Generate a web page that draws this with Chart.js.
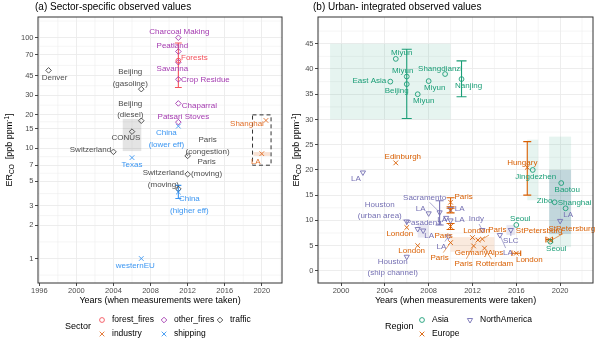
<!DOCTYPE html>
<html>
<head>
<meta charset="utf-8">
<script src="https://cdn.jsdelivr.net/npm/chart.js@4.4.1/dist/chart.umd.min.js"></script>
<style>
  html, body { margin:0; padding:0; background:#ffffff; }
  body { width:600px; height:343px; position:relative; overflow:hidden; }
  canvas { position:absolute; top:0; }
  #panelA { left:0; }
  #panelB { left:290px; }
</style>
</head>
<body>
<canvas id="panelA" width="290" height="343"></canvas>
<canvas id="panelB" width="310" height="343"></canvas>
<script>
// ================= Panel (a): sector-specific observed values (log scale) =================
const aYearTicks  = [1996, 2000, 2004, 2008, 2012, 2016, 2020];
const aValueTicks = [1, 2, 3, 5, 7, 10, 15, 20, 30, 45, 70, 100];

const fireYears  = [2011];
const fireValues = [62];
const fireLow    = [35.4];
const fireHigh   = [89.6];
const fireNames  = ['Forests'];

const industryYears  = [2020.45, 2020];
const industryValues = [17.8, 8.9];
const industryNames  = ['Shanghai', 'LA'];

const otherYears  = [2011, 2011, 2011, 2011, 2011, 2011];
const otherValues = [100, 75, 60, 42, 25.4, 17.2];
const otherNames  = ['Charcoal Making', 'Peatland', 'Savanna', 'Crop Residue', 'Chaparral', 'Patsari Stoves'];

const shipYears  = [2011, 2006, 2011, 2007];
const shipValues = [15.8, 8.2, 4.0, 1.0];
const shipLow    = [null, null, 3.5, null];
const shipHigh   = [null, null, 4.6, null];
const shipNames  = ['China\n(lower eff)', 'Texas', 'China\n(higher eff)', 'westernEU'];

const trafficYears  = [1997, 2007, 2007, 2006, 2004, 2012, 2012, 2011];
const trafficValues = [50.6, 34.2, 17.7, 14.1, 9.25, 8.5, 5.8, 4.27];
const trafficNames  = ['Denver', 'Beijing\n(gasoline)', 'Beijing\n(diesel)', 'CONUS', 'Switzerland',
                       'Paris\n(congestion)', 'Paris\n(moving)', 'Switzerland\n(moving)'];

const trafficBandYears  = [[2005, 2007]];
const trafficBandValues = [[9.4, 18.4]];
const industryBandYears  = [[2019.1, 2020.9]];
const industryBandValues = [[8.5, 9.2]];
const industryBoxYears  = [2019, 2021];
const industryBoxValues = [7, 20];

// ================= Panel (b): urban-integrated observed values (linear) =================
const bYearTicks  = [2000, 2004, 2008, 2012, 2016, 2020];
const bValueTicks = [0, 5, 10, 15, 20, 25, 30, 35, 40, 45];

const asiaYears  = [2005, 2006, 2006, 2004.5, 2007, 2008, 2009.5, 2011, 2016, 2017.5, 2020.1, 2019.5, 2020.5, 2019.1];
const asiaValues = [42, 38.5, 37, 37.5, 35, 37.6, 39, 38, 9.1, 20, 17.4, 13.6, 12.4, 5.8];
const asiaLow    = [null, null, 30.2, null, null, null, null, 34.5, null, null, null, null, null, null];
const asiaHigh   = [null, null, 43.9, null, null, null, null, 41.6, null, null, null, null, null, null];
const asiaNames  = ['Miyun', 'Miyun', 'Beijing', 'East Asia', 'Miyun', 'Miyun', 'Shangdianzi', 'Nanjing',
                    'Seoul', 'Jingdezhen', 'Baotou', 'Zibo', 'Shanghai', 'Seoul'];

const europeYears  = [2005, 2006, 2007, 2010, 2010, 2010, 2010, 2012, 2012.1, 2012.5, 2012.9, 2013.1, 2016, 2017, 2019, 2019.15];
const europeValues = [21.4, 8.6, 5.0, 13.6, 12.0, 8.8, 5.6, 6.6, 4.95, 6.1, 6.3, 4.5, 3.5, 20.5, 6.2, 6.0];
const europeLow    = [null, null, null, 12.7, 11.5, 8.2, null, null, null, null, null, null, null, 15.0, null, null];
const europeHigh   = [null, null, null, 14.5, 12.4, 9.4, null, null, null, null, null, null, null, 25.6, null, null];
const europeYearLow  = [null, null, null, null, null, null, null, null, null, null, null, null, 2015.6, null, 2018.7, null];
const europeYearHigh = [null, null, null, null, null, null, null, null, null, null, null, null, 2016.4, null, 2019.3, null];
const europeNames  = ['Edinburgh', 'London', 'London', 'Paris', '', 'Paris', 'Paris', 'London', 'Paris',
                      'GermanyAlps', 'Paris', 'Rotterdam', 'London', 'Hungary', 'StPetersburg', 'StPetersburg'];

const naYears  = [2002, 2006, 2007, 2007.5, 2008, 2009, 2009.6, 2010, 2010, 2009.8, 2006, 2012.9, 2015.5, 2014.5, 2020];
const naValues = [19.5, 9.8, 8.3, 8.0, 11.4, 11.6, 10.5, 12.3, 10.0, 6.8, 2.8, 8.1, 8.1, 7.1, 9.9];
const naLow    = [null, null, null, null, null, 9.1, null, null, null, null, null, null, null, null, null];
const naHigh   = [null, null, null, null, null, 13.9, null, null, null, null, null, null, null, null, null];
const naNames  = ['LA', 'Houston\n(urban area)', 'Pasadena', 'LA', 'LA', 'Sacramento', 'LA', 'LA', 'LA', 'LA',
                  'Houston\n(ship channel)', 'Indy', 'SLC', 'LA', 'LA'];

const asiaBandYears  = [[1999, 2010], [2017, 2018], [2019, 2021], [2019, 2021]];
const asiaBandValues = [[30, 45], [14, 26], [4.7, 26.6], [7.3, 20]];
const europeBandYears  = [[2010, 2014]];
const europeBandValues = [[3.8, 6.7]];
const naBandYears  = [[2007, 2008], [2015.1, 2015.9], [2019, 2021]];
const naBandValues = [[6.6, 9.3], [7.1, 9.1], [7.3, 20]];

// ================= Layout / style (not data) =================
const FONT = '"Liberation Sans", Arial, Helvetica, sans-serif';
const COL = { fire:'#F4525C', industry:'#E2702A', other:'#A43AB0', ship:'#3B96F2', traffic:'#4D4D4D',
              asia:'#1B9E77', europe:'#D95F02', na:'#7570B3' };
const RADIUS = { circle:2.4, crossRot:3.3, rectRot:2.8, triangle:3.0 };

const labelOffsets = {
  fire: [[16,-3]],
  industry: [[-19,3],[-6,8]],
  other: [[1,-6],[-6,-6],[-6,7],[27,0],[21,2],[5,-5]],
  ship: [[-12,7],[0,7],[11,7],[-6,7]],
  traffic: [[6,7],[-11,-17],[-11,-17],[-6,6],[-23,-2],[20,-16],[19,-12],[-15,-16]],
  asia: [[6,-6],[-4,-6],[-10,7],[-21,-1],[6,7],[6,7],[-5,-5],[7,7],[4,-6],[3,7],[6,7],[-10,-1],[9,-6],[6,7]],
  europe: [[7,-6],[-7,6],[-6,5],[13,-5],[0,0],[-7,9],[-11,15],[4,-7],[-10,18],[1,13],[15,-9],[10,16],[13,7],[-5,-5],[-10,-9],[21,-12]],
  na: [[-7,6],[-27,-17],[6,-6],[6,5],[-8,-5],[-15,-15],[-4,2],[9,0],[9,-1],[-7,10],[-14,5],[-6,-11],[0,11],[8,18],[8,-6]]
};
const leaders = { traffic:[5], europe:[6,8,10,11,15], na:[1,5,9,11,12,13] };

function minorLog(ticks) {
  const l = ticks.map(Math.log10), d = l[1] - l[0];
  const e = [l[0] - d, ...l, l[l.length - 1] + d], out = [];
  for (let i = 0; i < e.length - 1; i++) out.push(Math.pow(10, (e[i] + e[i + 1]) / 2));
  return out;
}
function minorLin(ticks) {
  const d = ticks[1] - ticks[0];
  const e = [ticks[0] - d, ...ticks, ticks[ticks.length - 1] + d], out = [];
  for (let i = 0; i < e.length - 1; i++) out.push((e[i] + e[i + 1]) / 2);
  return out;
}

function drawSymbol(ctx, style, x, y, color) {
  const r = RADIUS[style];
  ctx.save();
  ctx.strokeStyle = color; ctx.lineWidth = 0.9; ctx.beginPath();
  if (style === 'circle') ctx.arc(x, y, r, 0, Math.PI * 2);
  else if (style === 'crossRot') { const d = r * Math.SQRT1_2; ctx.moveTo(x-d,y-d); ctx.lineTo(x+d,y+d); ctx.moveTo(x+d,y-d); ctx.lineTo(x-d,y+d); }
  else if (style === 'rectRot') { ctx.moveTo(x-r,y); ctx.lineTo(x,y-r); ctx.lineTo(x+r,y); ctx.lineTo(x,y+r); ctx.closePath(); }
  else if (style === 'triangle') {
    const a = Math.PI;
    for (let k = 0; k < 3; k++) { const t = a + k * 2 * Math.PI / 3; const px = x + Math.sin(t) * r, py = y - Math.cos(t) * r; k ? ctx.lineTo(px, py) : ctx.moveTo(px, py); }
    ctx.closePath();
  }
  ctx.stroke(); ctx.restore();
}

function drawYTitle(ctx, cx, cy) {
  const parts = [['ER', 9, 0], ['CO', 6.5, 2.2], ['  [ppb ppm', 9, 0], ['-1', 6.5, -3.6], [']', 9, 0]];
  ctx.save();
  ctx.translate(cx, cy); ctx.rotate(-Math.PI / 2);
  ctx.fillStyle = '#000'; ctx.textBaseline = 'alphabetic'; ctx.textAlign = 'left';
  let total = 0;
  parts.forEach(p => { ctx.font = p[1] + 'px ' + FONT; total += ctx.measureText(p[0]).width; });
  let x = -total / 2;
  parts.forEach(p => { ctx.font = p[1] + 'px ' + FONT; ctx.fillText(p[0], x, 3.2 + p[2]); x += ctx.measureText(p[0]).width; });
  ctx.restore();
}

function makePlugin(spec) {
  return {
    id: 'deco' + spec.key,
    beforeDatasetsDraw(chart) {
      const { ctx, chartArea: a, scales: { x, y } } = chart;
      ctx.save();
      ctx.beginPath(); ctx.rect(a.left, a.top, a.right - a.left, a.bottom - a.top); ctx.clip();
      ctx.strokeStyle = '#EBEBEB'; ctx.lineWidth = 0.5;
      spec.minorX.forEach(v => { const p = x.getPixelForValue(v); ctx.beginPath(); ctx.moveTo(p, a.top); ctx.lineTo(p, a.bottom); ctx.stroke(); });
      spec.minorY.forEach(v => { const p = y.getPixelForValue(v); ctx.beginPath(); ctx.moveTo(a.left, p); ctx.lineTo(a.right, p); ctx.stroke(); });
      spec.bands.forEach(b => {
        b.years.forEach((yr, i) => {
          const x0 = x.getPixelForValue(yr[0]), x1 = x.getPixelForValue(yr[1]);
          const y0 = y.getPixelForValue(b.values[i][0]), y1 = y.getPixelForValue(b.values[i][1]);
          ctx.fillStyle = b.fill; ctx.fillRect(x0, y1, x1 - x0, y0 - y1);
        });
      });
      // error bars
      spec.groups.forEach(g => {
        ctx.strokeStyle = g.color; ctx.lineWidth = 1.1;
        const cap = g.cap;
        g.years.forEach((yr, i) => {
          const px = x.getPixelForValue(yr), py = y.getPixelForValue(g.values[i]);
          if (g.low && g.low[i] != null) {
            const yl = y.getPixelForValue(g.low[i]), yh = y.getPixelForValue(g.high[i]);
            ctx.beginPath(); ctx.moveTo(px, yl); ctx.lineTo(px, yh);
            ctx.moveTo(px - cap, yl); ctx.lineTo(px + cap, yl);
            ctx.moveTo(px - cap, yh); ctx.lineTo(px + cap, yh); ctx.stroke();
          }
          if (g.xlow && g.xlow[i] != null) {
            const xl = x.getPixelForValue(g.xlow[i]), xh = x.getPixelForValue(g.xhigh[i]);
            ctx.beginPath(); ctx.moveTo(xl, py); ctx.lineTo(xh, py);
            ctx.moveTo(xl, py - cap * 0.7); ctx.lineTo(xl, py + cap * 0.7);
            ctx.moveTo(xh, py - cap * 0.7); ctx.lineTo(xh, py + cap * 0.7); ctx.stroke();
          }
        });
      });
      if (spec.box) {
        const x0 = x.getPixelForValue(spec.box.years[0]), x1 = x.getPixelForValue(spec.box.years[1]);
        const y0 = y.getPixelForValue(spec.box.values[0]), y1 = y.getPixelForValue(spec.box.values[1]);
        ctx.setLineDash([4, 3]); ctx.strokeStyle = '#333'; ctx.lineWidth = 1;
        ctx.strokeRect(x0, y1, x1 - x0, y0 - y1); ctx.setLineDash([]);
      }
      ctx.restore();
    },
    afterDatasetsDraw(chart) {
      const { ctx, scales: { x, y } } = chart;
      ctx.save();
      ctx.font = '8px ' + FONT; ctx.textAlign = 'center'; ctx.textBaseline = 'middle';
      spec.groups.forEach(g => {
        const offs = labelOffsets[g.key], lead = leaders[g.key] || [];
        g.years.forEach((yr, i) => {
          const name = g.names[i]; if (!name) return;
          const px = x.getPixelForValue(yr), py = y.getPixelForValue(g.values[i]);
          const lx = px + offs[i][0], ly = py + offs[i][1];
          const lines = name.split('\n');
          if (lead.includes(i)) {
            const w = Math.max(...lines.map(t => ctx.measureText(t).width)) / 2 + 1;
            const h = (lines.length - 1) * 11.5 / 2 + 5;
            const cx = lx, cy = ly + (lines.length - 1) * 11.5 / 2;
            const dx = px - cx, dy = py - cy;
            const s = Math.min(dx ? w / Math.abs(dx) : 1e9, dy ? h / Math.abs(dy) : 1e9);
            if (s < 1) {
              const ex = cx + s * dx, ey = cy + s * dy;
              const len = Math.hypot(px - ex, py - ey);
              if (len > 3) {
                const sx = px - (px - ex) * 2 / len, sy = py - (py - ey) * 2 / len;
                ctx.strokeStyle = g.labelColor; ctx.lineWidth = 0.6;
                ctx.beginPath(); ctx.moveTo(sx, sy); ctx.lineTo(ex, ey); ctx.stroke();
              }
            }
          }
          ctx.fillStyle = g.labelColor;
          lines.forEach((t, k) => ctx.fillText(t, lx, ly + k * 11.5));
        });
      });
      ctx.restore();
    },
    afterDraw(chart) {
      const { ctx, chartArea: a } = chart;
      ctx.save();
      ctx.strokeStyle = '#333333'; ctx.lineWidth = 1;
      ctx.strokeRect(a.left, a.top, a.right - a.left, a.bottom - a.top);
      ctx.fillStyle = '#000'; ctx.textBaseline = 'middle'; ctx.textAlign = 'left';
      ctx.font = '10px ' + FONT; ctx.fillText(spec.title, spec.titleX, 7.5);
      ctx.textAlign = 'center'; ctx.font = '9px ' + FONT;
      ctx.fillText('Years (when measurements were taken)', (a.left + a.right) / 2, 301);
      drawYTitle(ctx, spec.yTitleX, (a.top + a.bottom) / 2);
      // legend
      const L = spec.legend;
      ctx.textAlign = 'left'; ctx.fillStyle = '#000';
      ctx.font = '9px ' + FONT; ctx.fillText(L.title, L.titleX, 327);
      ctx.font = '8.5px ' + FONT;
      L.items.forEach(it => {
        const yy = it.row === 0 ? 320 : 334;
        drawSymbol(ctx, it.style, it.x, yy, it.color);
        ctx.fillStyle = '#000'; ctx.fillText(it.label, it.x + 10, yy);
      });
      ctx.restore();
    }
  };
}

function makeChart(id, spec) {
  const datasets = spec.groups.map(g => ({
    label: g.name,
    data: g.years.map((yr, i) => ({ x: yr, y: g.values[i] })),
    pointStyle: g.style,
    rotation: g.style === 'triangle' ? 180 : 0,
    pointRadius: RADIUS[g.style],
    pointBorderWidth: 0.9,
    borderColor: g.color,
    backgroundColor: 'rgba(0,0,0,0)',
    showLine: false
  }));
  const tickFont = { family: FONT, size: 7.5 };
  const grid = { color: '#EBEBEB', lineWidth: 0.9, tickColor: '#333333', tickLength: 3, tickWidth: 0.9 };
  return new Chart(document.getElementById(id), {
    type: 'scatter',
    data: { datasets },
    options: {
      responsive: false, animation: false, devicePixelRatio: 1, events: [],
      layout: { padding: { top: 17, right: spec.padRight, left: 0, bottom: 0 } },
      plugins: { legend: { display: false }, tooltip: { enabled: false }, title: { display: false } },
      scales: {
        x: {
          type: 'linear', position: 'bottom', min: spec.xMin, max: spec.xMax,
          afterBuildTicks: s => { s.ticks = spec.xTicks.map(v => ({ value: v })); },
          afterFit: s => { s.height = 60; },
          ticks: { autoSkip: false, maxRotation: 0, color: '#4D4D4D', font: tickFont, padding: 0, callback: v => String(v) },
          grid: grid, border: { display: false }
        },
        y: {
          type: spec.yType, position: 'left', min: spec.yMin, max: spec.yMax,
          afterBuildTicks: s => { s.ticks = spec.yTicks.map(v => ({ value: v })); },
          afterFit: s => { s.width = spec.yWidth; },
          ticks: { autoSkip: false, color: '#4D4D4D', font: tickFont, padding: 1.5, callback: v => String(v) },
          grid: grid, border: { display: false }
        }
      }
    },
    plugins: [makePlugin(spec)]
  });
}

makeChart('panelA', {
  key: 'A', title: '(a) Sector-specific observed values', titleX: 35, yTitleX: 9,
  padRight: 8, yWidth: 38, xMin: 1995.86, xMax: 2022.18, yType: 'logarithmic', yMin: 0.635, yMax: 154,
  xTicks: aYearTicks, yTicks: aValueTicks, minorX: minorLin(aYearTicks), minorY: minorLog(aValueTicks),
  bands: [
    { years: trafficBandYears, values: trafficBandValues, fill: 'rgba(120,120,120,0.2)' },
    { years: industryBandYears, values: industryBandValues, fill: 'rgba(226,112,42,0.2)' }
  ],
  box: { years: industryBoxYears, values: industryBoxValues },
  groups: [
    { key:'fire', name:'forest_fires', style:'circle', color:COL.fire, labelColor:COL.fire, years:fireYears, values:fireValues, names:fireNames, low:fireLow, high:fireHigh, cap:3.4 },
    { key:'industry', name:'industry', style:'crossRot', color:COL.industry, labelColor:COL.industry, years:industryYears, values:industryValues, names:industryNames, cap:3 },
    { key:'other', name:'other_fires', style:'rectRot', color:COL.other, labelColor:COL.other, years:otherYears, values:otherValues, names:otherNames, cap:3 },
    { key:'ship', name:'shipping', style:'crossRot', color:COL.ship, labelColor:COL.ship, years:shipYears, values:shipValues, names:shipNames, low:shipLow, high:shipHigh, cap:3 },
    { key:'traffic', name:'traffic', style:'rectRot', color:'#444444', labelColor:COL.traffic, years:trafficYears, values:trafficValues, names:trafficNames, cap:3 }
  ],
  legend: { title: 'Sector', titleX: 65, items: [
    { row:0, x:102, style:'circle', color:COL.fire, label:'forest_fires' },
    { row:0, x:164, style:'rectRot', color:COL.other, label:'other_fires' },
    { row:0, x:220, style:'rectRot', color:'#444444', label:'traffic' },
    { row:1, x:102, style:'crossRot', color:COL.industry, label:'industry' },
    { row:1, x:164, style:'crossRot', color:COL.ship, label:'shipping' }
  ] }
});

makeChart('panelB', {
  key: 'B', title: '(b) Urban- integrated observed values', titleX: 23, yTitleX: 6,
  padRight: 7, yWidth: 28, xMin: 1997.9, xMax: 2023.0, yType: 'linear', yMin: -2.4, yMax: 50.3,
  xTicks: bYearTicks, yTicks: bValueTicks, minorX: minorLin(bYearTicks), minorY: minorLin(bValueTicks),
  bands: [
    { years: asiaBandYears, values: asiaBandValues, fill: 'rgba(27,158,119,0.11)' },
    { years: europeBandYears, values: europeBandValues, fill: 'rgba(217,95,2,0.13)' },
    { years: naBandYears, values: naBandValues, fill: 'rgba(117,112,179,0.16)' }
  ],
  groups: [
    { key:'asia', name:'Asia', style:'circle', color:COL.asia, labelColor:COL.asia, years:asiaYears, values:asiaValues, names:asiaNames, low:asiaLow, high:asiaHigh, cap:5 },
    { key:'europe', name:'Europe', style:'crossRot', color:COL.europe, labelColor:COL.europe, years:europeYears, values:europeValues, names:europeNames, low:europeLow, high:europeHigh, xlow:europeYearLow, xhigh:europeYearHigh, cap:4 },
    { key:'na', name:'NorthAmerica', style:'triangle', color:COL.na, labelColor:COL.na, years:naYears, values:naValues, names:naNames, low:naLow, high:naHigh, cap:4 }
  ],
  legend: { title: 'Region', titleX: 95, items: [
    { row:0, x:132, style:'circle', color:COL.asia, label:'Asia' },
    { row:0, x:180, style:'triangle', color:COL.na, label:'NorthAmerica' },
    { row:1, x:132, style:'crossRot', color:COL.europe, label:'Europe' }
  ] }
});
</script>
</body>
</html>
